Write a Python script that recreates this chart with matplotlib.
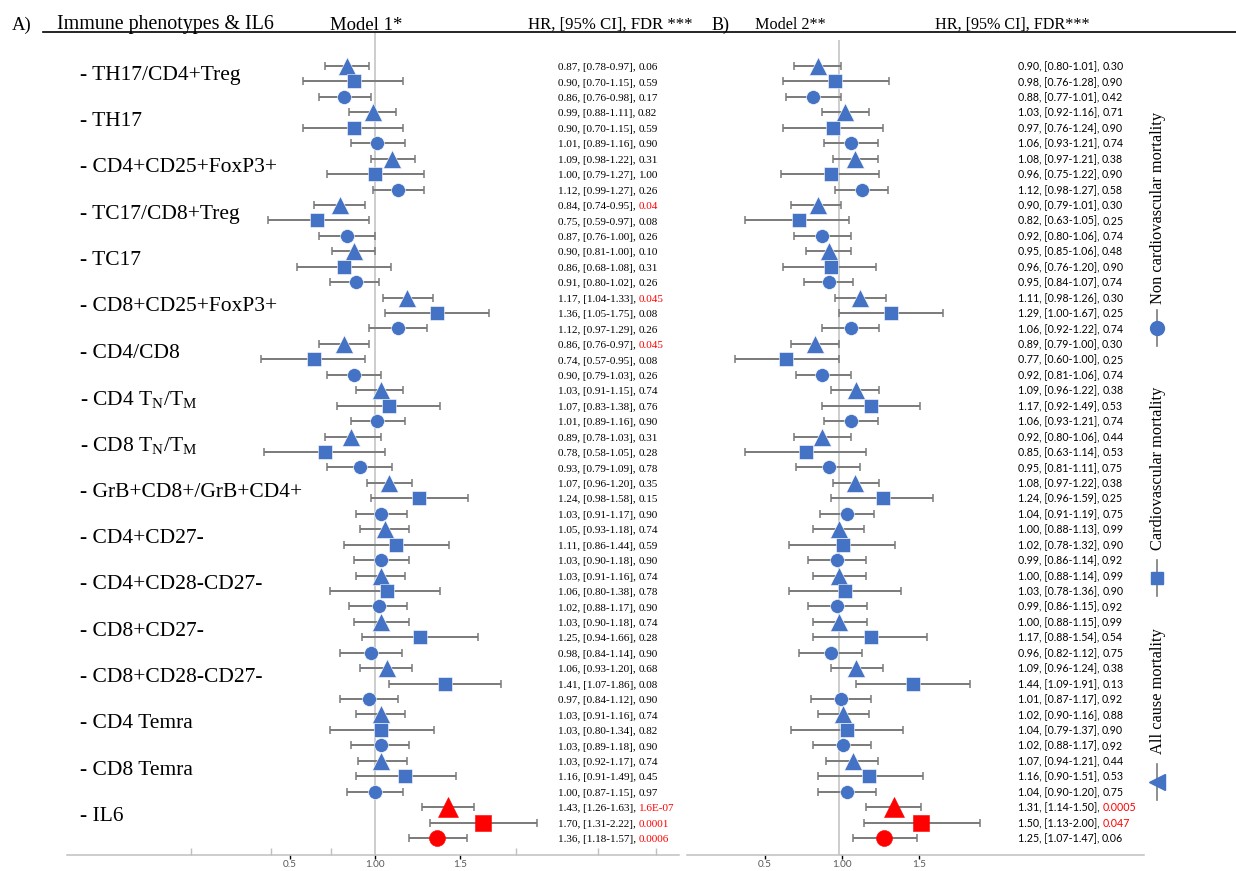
import numpy as np
import matplotlib.pyplot as plt
from matplotlib.lines import Line2D
from matplotlib.transforms import offset_copy

plt.rcParams['font.family'] = ['Liberation Serif', 'DejaVu Serif']
plt.rcParams['mathtext.fontset'] = 'custom'
plt.rcParams['mathtext.rm'] = 'Liberation Serif'
plt.rcParams['mathtext.it'] = 'Liberation Serif:italic'

# === Data ===
phenotypes = ['TH17/CD4+Treg', 'TH17', 'CD4+CD25+FoxP3+', 'TC17/CD8+Treg', 'TC17',
              'CD8+CD25+FoxP3+', 'CD4/CD8', r'CD4 T$_\mathrm{N}$/T$_\mathrm{M}$',
              r'CD8 T$_\mathrm{N}$/T$_\mathrm{M}$', 'GrB+CD8+/GrB+CD4+', 'CD4+CD27-',
              'CD4+CD28-CD27-', 'CD8+CD27-', 'CD8+CD28-CD27-', 'CD4 Temra', 'CD8 Temra', 'IL6']
outcomes = ['All cause mortality', 'Cardiovascular mortality', 'Non cardiovascular mortality']
outcome_markers = ['^', 's', 'o']

# each phenotype: all cause, cardiovascular, non cardiovascular
m1_hr = [0.87, 0.90, 0.86, 0.99, 0.90, 1.01, 1.09, 1.00, 1.12, 0.84, 0.75, 0.87,
         0.90, 0.86, 0.91, 1.17, 1.36, 1.12, 0.86, 0.74, 0.90, 1.03, 1.07, 1.01,
         0.89, 0.78, 0.93, 1.07, 1.24, 1.03, 1.05, 1.11, 1.03, 1.03, 1.06, 1.02,
         1.03, 1.25, 0.98, 1.06, 1.41, 0.97, 1.03, 1.03, 1.03, 1.03, 1.16, 1.00,
         1.43, 1.70, 1.36]
m1_lo = [0.78, 0.70, 0.76, 0.88, 0.70, 0.89, 0.98, 0.79, 0.99, 0.74, 0.59, 0.76,
         0.81, 0.68, 0.80, 1.04, 1.05, 0.97, 0.76, 0.57, 0.79, 0.91, 0.83, 0.89,
         0.78, 0.58, 0.79, 0.96, 0.98, 0.91, 0.93, 0.86, 0.90, 0.91, 0.80, 0.88,
         0.90, 0.94, 0.84, 0.93, 1.07, 0.84, 0.91, 0.80, 0.89, 0.92, 0.91, 0.87,
         1.26, 1.31, 1.18]
m1_hi = [0.97, 1.15, 0.98, 1.11, 1.15, 1.16, 1.22, 1.27, 1.27, 0.95, 0.97, 1.00,
         1.00, 1.08, 1.02, 1.33, 1.75, 1.29, 0.97, 0.95, 1.03, 1.15, 1.38, 1.16,
         1.03, 1.05, 1.09, 1.20, 1.58, 1.17, 1.18, 1.44, 1.18, 1.16, 1.38, 1.17,
         1.18, 1.66, 1.14, 1.20, 1.86, 1.12, 1.16, 1.34, 1.18, 1.17, 1.49, 1.15,
         1.63, 2.22, 1.57]
m1_fdr = ['0.06', '0.59', '0.17', '0.82', '0.59', '0.90', '0.31', '1.00', '0.26',
          '0.04', '0.08', '0.26', '0.10', '0.31', '0.26', '0.045', '0.08', '0.26',
          '0.045', '0.08', '0.26', '0.74', '0.76', '0.90', '0.31', '0.28', '0.78',
          '0.35', '0.15', '0.90', '0.74', '0.59', '0.90', '0.74', '0.78', '0.90',
          '0.74', '0.28', '0.90', '0.68', '0.08', '0.90', '0.74', '0.82', '0.90',
          '0.74', '0.45', '0.97', '1.6E-07', '0.0001', '0.0006']

m2_hr = [0.90, 0.98, 0.88, 1.03, 0.97, 1.06, 1.08, 0.96, 1.12, 0.90, 0.82, 0.92,
         0.95, 0.96, 0.95, 1.11, 1.29, 1.06, 0.89, 0.77, 0.92, 1.09, 1.17, 1.06,
         0.92, 0.85, 0.95, 1.08, 1.24, 1.04, 1.00, 1.02, 0.99, 1.00, 1.03, 0.99,
         1.00, 1.17, 0.96, 1.09, 1.44, 1.01, 1.02, 1.04, 1.02, 1.07, 1.16, 1.04,
         1.31, 1.50, 1.25]
m2_lo = [0.80, 0.76, 0.77, 0.92, 0.76, 0.93, 0.97, 0.75, 0.98, 0.79, 0.63, 0.80,
         0.85, 0.76, 0.84, 0.98, 1.00, 0.92, 0.79, 0.60, 0.81, 0.96, 0.92, 0.93,
         0.80, 0.63, 0.81, 0.97, 0.96, 0.91, 0.88, 0.78, 0.86, 0.88, 0.78, 0.86,
         0.88, 0.88, 0.82, 0.96, 1.09, 0.87, 0.90, 0.79, 0.88, 0.94, 0.90, 0.90,
         1.14, 1.13, 1.07]
m2_hi = [1.01, 1.28, 1.01, 1.16, 1.24, 1.21, 1.21, 1.22, 1.27, 1.01, 1.05, 1.06,
         1.06, 1.20, 1.07, 1.26, 1.67, 1.22, 1.00, 1.00, 1.06, 1.22, 1.49, 1.21,
         1.06, 1.14, 1.11, 1.22, 1.59, 1.19, 1.13, 1.32, 1.14, 1.14, 1.36, 1.15,
         1.15, 1.54, 1.12, 1.24, 1.91, 1.17, 1.16, 1.37, 1.17, 1.21, 1.51, 1.20,
         1.50, 2.00, 1.47]
m2_fdr = ['0.30', '0.90', '0.42', '0.71', '0.90', '0.74', '0.38', '0.90', '0.58',
          '0.30', '0.25', '0.74', '0.48', '0.90', '0.74', '0.30', '0.25', '0.74',
          '0.30', '0.25', '0.74', '0.38', '0.53', '0.74', '0.44', '0.53', '0.75',
          '0.38', '0.25', '0.75', '0.99', '0.90', '0.92', '0.99', '0.90', '0.92',
          '0.99', '0.54', '0.75', '0.38', '0.13', '0.92', '0.88', '0.90', '0.92',
          '0.44', '0.53', '0.75', '0.0005', '0.047', '0.06']

axis_labels = ['0.5', '1.00', '1.5']

# === Layout (pixels) ===
W, H = 1236, 871
ROW0, ROW_PX = 66, 15.44   # y of first row, spacing between rows
LN_PX = 203                # pixels per unit of ln(HR)
AXIS_Y = 855
BLUE, RED = '#4472C4', '#FF0000'
GREY, LIGHT = '#7a7a7a', '#c0c0c0'

fig = plt.figure(figsize=(W / 100, H / 100), dpi=100)
renderer = fig.canvas.get_renderer()


def panel(left, right, top, ref_px, hr, lo, hi, fdr, text_px, text_font,
          text_size, lab1_px, lab_slope, minors):
    bottom = AXIS_Y
    ax = fig.add_axes([left / W, 1 - bottom / H, (right - left) / W, (bottom - top) / H])
    ax.set_xscale('log')
    ax.set_xlim(np.exp((left - ref_px) / LN_PX), np.exp((right - ref_px) / LN_PX))
    ax.set_ylim((bottom - ROW0) / ROW_PX, (top - ROW0) / ROW_PX)
    ax.set_yticks([])
    for s in ax.spines.values():
        s.set_visible(False)
    ax.spines['bottom'].set_visible(True)
    ax.spines['bottom'].set_color(LIGHT)
    ax.spines['bottom'].set_linewidth(1.1)
    ax.axvline(1.0, color=LIGHT, lw=1.1, zorder=0)

    hr, lo, hi = np.array(hr), np.array(lo), np.array(hi)
    rows = np.arange(len(hr))
    ax.errorbar(hr, rows, xerr=[hr - lo, hi - hr], fmt='none', ecolor=GREY,
                elinewidth=1.4, capsize=2.6, capthick=1.1, zorder=2)
    for i in rows:
        k = i % 3
        red = i >= len(hr) - 3
        size = {'^': 12.5, 's': 10, 'o': 10}[outcome_markers[k]]
        if red:
            size += 1.5
        ax.plot(hr[i], i, marker=outcome_markers[k], ms=size, color=RED if red else BLUE,
                mec='white' if not red else RED, mew=0.4, zorder=3)

    # value column
    tr = ax.get_yaxis_transform()
    tx = (text_px - left) / (right - left)
    for i in rows:
        head = f'{hr[i]:.2f}, [{lo[i]:.2f}-{hi[i]:.2f}], '
        t = ax.text(tx, i + 0.27, head, transform=tr, fontsize=text_size,
                    family=text_font, va='baseline', ha='left')
        w = t.get_window_extent(renderer=renderer).width
        col = RED if float(fdr[i]) < 0.05 else 'black'
        ax.text(tx, i + 0.27, fdr[i], transform=offset_copy(tr, fig=fig, x=w, units='dots'),
                fontsize=text_size, family=text_font, va='baseline', ha='left', color=col)

    # bottom axis labels sit on their own (linear) spacing, as in the original figure
    to_hr = lambda v: np.exp(((np.asarray(v, float) - 1) * lab_slope + lab1_px - ref_px) / LN_PX)
    ax.set_xticks(to_hr([float(s) for s in axis_labels]), labels=axis_labels, family='Lato')
    ax.set_xticks(to_hr(minors), minor=True)
    ax.xaxis.set_minor_formatter(plt.NullFormatter())
    ax.tick_params(axis='x', which='major', direction='out', length=3, color='black', width=1,
                   labelsize=7.2, labelcolor='#595959', pad=0.5)
    ax.tick_params(axis='x', which='minor', direction='in', length=5, color=LIGHT, width=1)
    return ax


axA = panel(67, 679, 33, 375, m1_hr, m1_lo, m1_hi, m1_fdr, 558, 'Liberation Serif',
            8, 375, 170, [-0.08, 0.39, 0.74, 1.83, 2.31, 2.65])
axB = panel(687, 1144, 40, 839, m2_hr, m2_lo, m2_hi, m2_fdr, 1018, 'Lato',
            7.7, 842, 154, [])

# phenotype labels
trA = axA.get_yaxis_transform()
for g, name in enumerate(phenotypes):
    axA.text((80 - 67) / 612, 3 * g + 1 - 0.4, '- ' + name, transform=trA,
             fontsize=15.5, va='center', ha='left')

# header
hy = 1 - 25 / H
for x, s, fs in [(12, 'A)', 13.5), (57, 'Immune phenotypes & IL6', 14.4), (330, 'Model 1*', 13.5),
                 (528, 'HR, [95% CI], FDR ***', 12.1), (712, 'B)', 13.0),
                 (755, 'Model 2**', 11.6), (935, 'HR, [95% CI], FDR***', 11.6)]:
    fig.text(x / W, hy, s, fontsize=fs, va='center', ha='left')
fig.add_artist(Line2D([43 / W, 1], [1 - 32 / H] * 2, color='black', lw=1.2))

# legend strip on the right
for label, mk, ty, my, ms in [('Non cardiovascular mortality', 'o', 208, 328, 10),
                              ('Cardiovascular mortality', 's', 468, 578, 9),
                              ('All cause mortality', '<', 691, 782, 11)]:
    fig.text(1158 / W, 1 - ty / H, label, rotation=90, fontsize=11.8,
             va='center', ha='center')
    fig.add_artist(Line2D([1157 / W] * 2, [1 - (my - 18) / H, 1 - (my + 18) / H],
                          color=GREY, lw=1.2))
    fig.add_artist(Line2D([1157 / W], [1 - my / H], marker=mk, ms=ms, color=BLUE,
                          mec=BLUE, lw=0))

fig.savefig('out.png', dpi=100)
